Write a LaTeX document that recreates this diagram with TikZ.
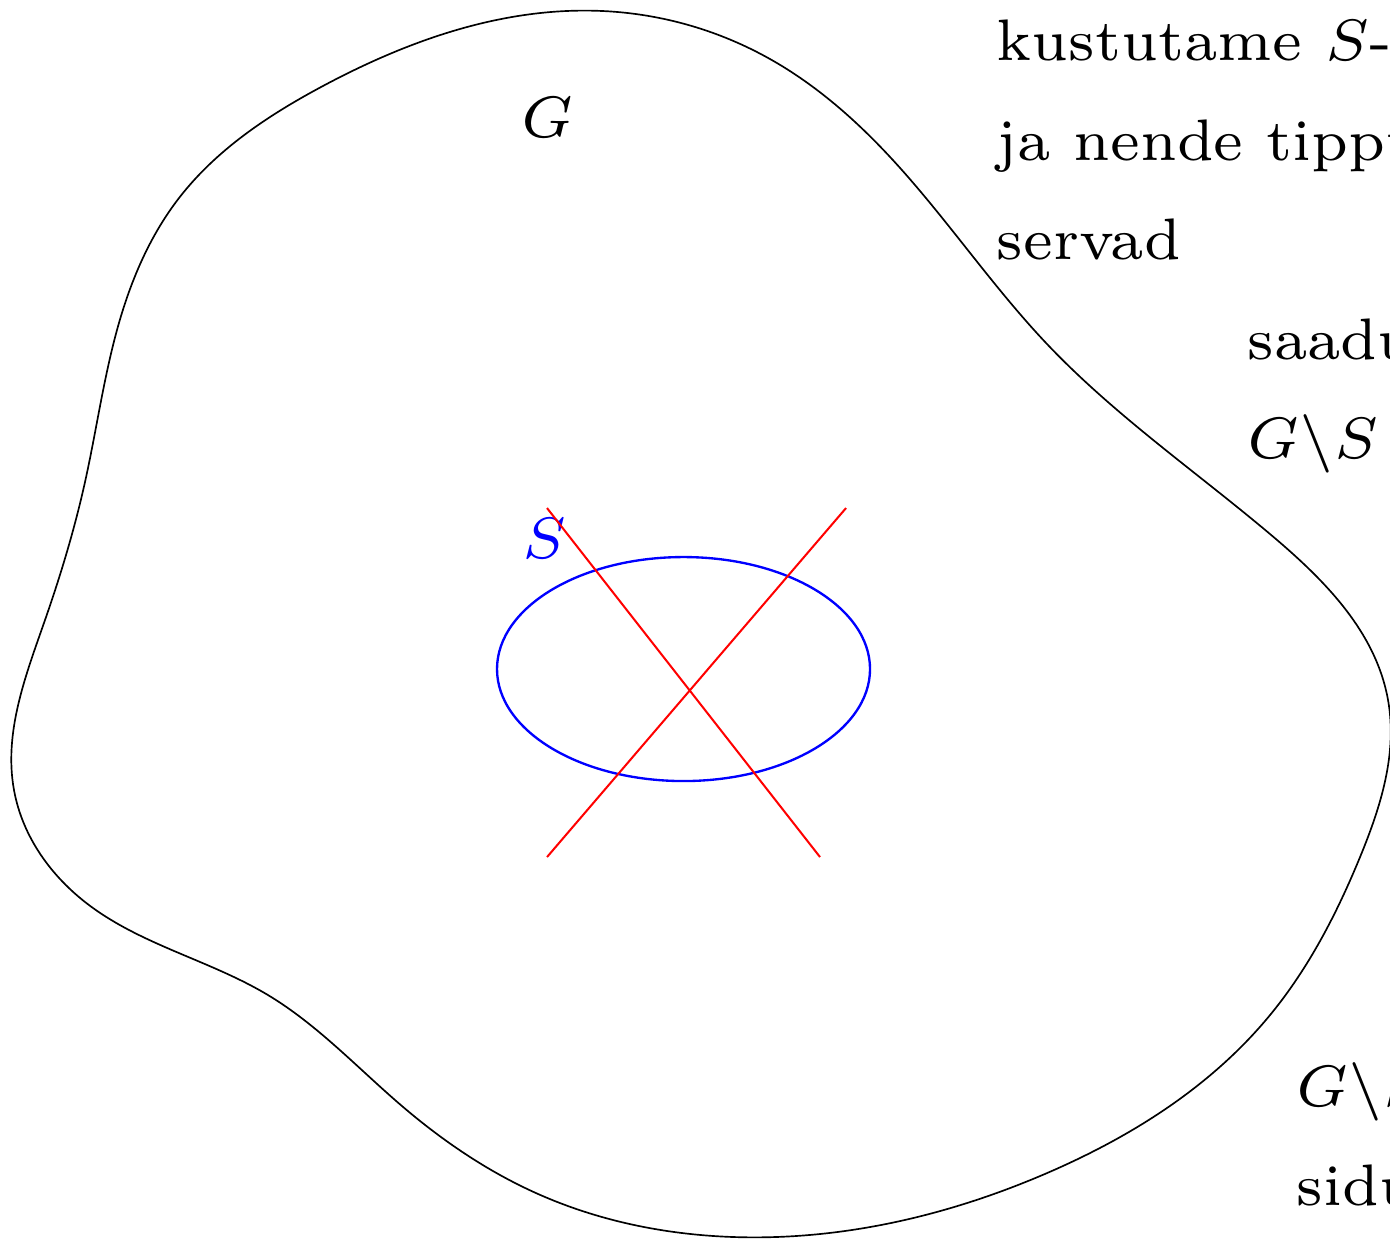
\documentclass[tikz,border=0pt]{standalone}
\usetikzlibrary{hobby}
\begin{document}
\begin{tikzpicture}[x=0.1195pt,y=-0.1195pt,
  txt/.style={inner sep=0pt,anchor=base west,font=\scriptsize},
  lbl/.style={inner sep=0pt,font=\scriptsize},
  outline/.style={line width=0.2pt,black},
  cross/.style={line width=0.24pt,red},
  setS/.style={line width=0.28pt,blue}]
\useasboundingbox (0,0) rectangle (1390,1239);
% graph G outline
\draw[outline,use Hobby shortcut,closed=true]
 (603,11) .. (770,59) .. (891,158) .. (1047,344) .. (1270,534)
 .. (1388,700) .. (1360,857) .. (1270,1015) .. (1047,1173) .. (735,1237)
 .. (536,1193) .. (402,1106) .. (268,995) .. (89,905) .. (14,790)
 .. (45,620) .. (85,482) .. (121,316) .. (179,198) .. (321,87) .. (603,11);
\node[lbl] (G) at (548,117) {$G$};
% set S
\draw[setS] (683.5,669) ellipse [x radius=186.5, y radius=112];
\node[lbl,text=blue] (S) at (545,538) {$S$};
% crossing out
\draw[cross] (547,508) -- (820,857);
\draw[cross] (547,857) -- (846,508);
% texts
\node[txt] (t1) at (995,60) {kustutame $S$-i tipud};
\node[txt] (t2) at (995,160) {ja nende tippudega intsidentsed};
\node[txt] (t3) at (995,259) {servad};
\node[txt] (t4) at (1246,359) {saadud graaf};
\node[txt] (t5) at (1246,458) {$G\backslash S$};
\node[txt] (t6) at (1295,1106) {$G\backslash S$ pole};
\node[txt] (t7) at (1295,1205) {sidus};
\end{tikzpicture}
\end{document}
